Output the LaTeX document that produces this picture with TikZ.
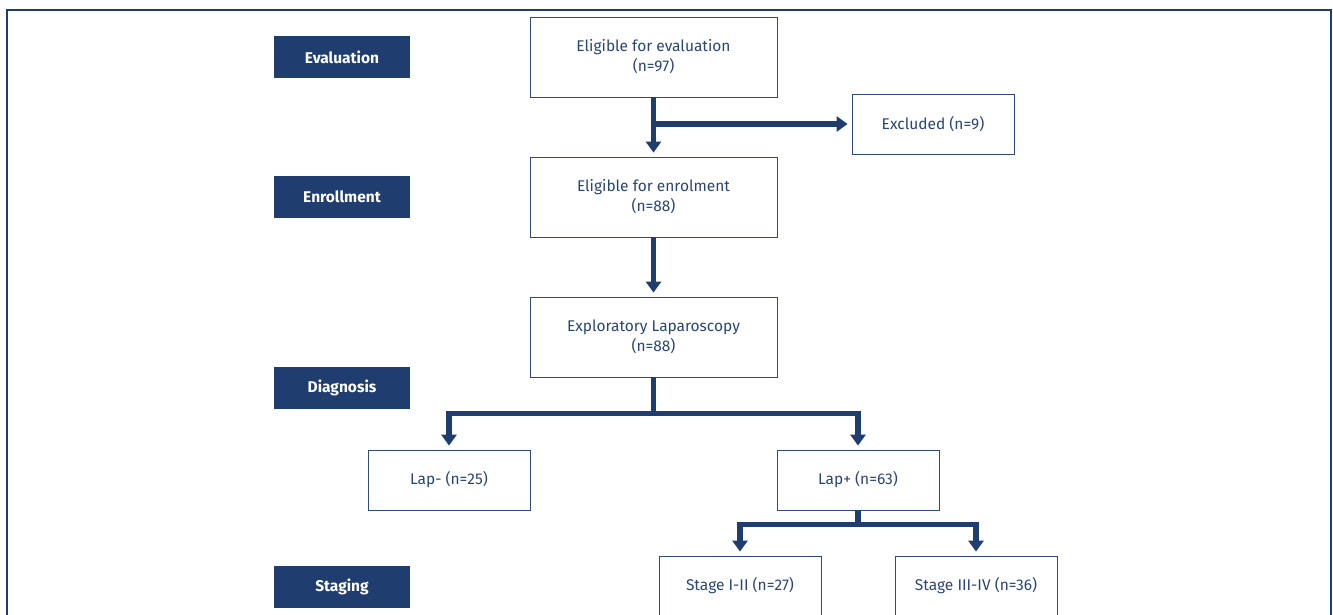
\documentclass[tikz,border=0pt]{standalone}
\usepackage{fontspec}
\setmainfont{Fira Sans}
\usetikzlibrary{positioning, arrows.meta, calc}

\definecolor{navy}{HTML}{1F3E6F}
\definecolor{boxline}{HTML}{2E4B7C}
\definecolor{boxtext}{HTML}{2A4574}

\tikzset{
  phase/.style={fill=navy, text=white, font=\bfseries\fontsize{15.5}{18}\selectfont,
    minimum width=136pt, minimum height=42pt, inner sep=0pt},
  box/.style={draw=boxline, line width=0.8pt, text=boxtext, align=center,
    font=\fontsize{15.5}{20}\selectfont, minimum width=247pt, minimum height=80pt, inner sep=0pt},
  smallbox/.style={box, minimum width=162pt, minimum height=60pt},
  link/.style={navy, line width=5.5pt},
  flow/.style={link, -{Triangle[width=15pt,length=11pt]}, shorten >=4pt},
}

\begin{document}
\begin{tikzpicture}[x=1pt, y=-1pt]
  \useasboundingbox (0,0) rectangle (1333,615);

  % Outer frame
  \draw[navy, line width=1.5pt] (7,640) -- (7,10) -- (1331,10) -- (1331,640);

  % Phase labels
  \node[phase] (evaluation) at (342,57) {Evaluation};
  \node[phase] (enrollment) at (342,197) {Enrollment};
  \node[phase] (diagnosis) at (342,388) {Diagnosis};
  \node[phase] (staging) at (342,587) {Staging};

  % Flow boxes
  \node[box] (elig) at (653.5,57) {Eligible for evaluation\\(n=97)};
  \node[smallbox] (excl) at (933,124) {Excluded (n=9)};
  \node[box] (enrol) at (653.5,197) {Eligible for enrolment\\(n=88)};
  \node[box] (explo) at (653.5,337) {Exploratory Laparoscopy\\(n=88)};
  \node[smallbox] (lapneg) at (449,480) {Lap- (n=25)};
  \node[smallbox] (lappos) at (858,480) {Lap+ (n=63)};
  \node[smallbox] (stlow) at (740,586) {Stage I-II (n=27)};
  \node[smallbox] (sthigh) at (976,586) {Stage III-IV (n=36)};

  % Connectors
  \draw[flow] (elig.south) -- (enrol.north);
  \draw[flow] (elig.south |- excl.west) -- (excl.west);
  \draw[flow] (enrol.south) -- (explo.north);

  \draw[link] (explo.south) -- ++(0,36) coordinate (split);
  \draw[flow] ($(split)+(2.75,0)$) -| (lapneg.north);
  \draw[flow] ($(split)-(2.75,0)$) -| (lappos.north);

  \draw[link] (lappos.south) -- ++(0,14) coordinate (split2);
  \draw[flow] ($(split2)+(2.75,0)$) -| (stlow.north);
  \draw[flow] ($(split2)-(2.75,0)$) -| (sthigh.north);
\end{tikzpicture}
\end{document}
